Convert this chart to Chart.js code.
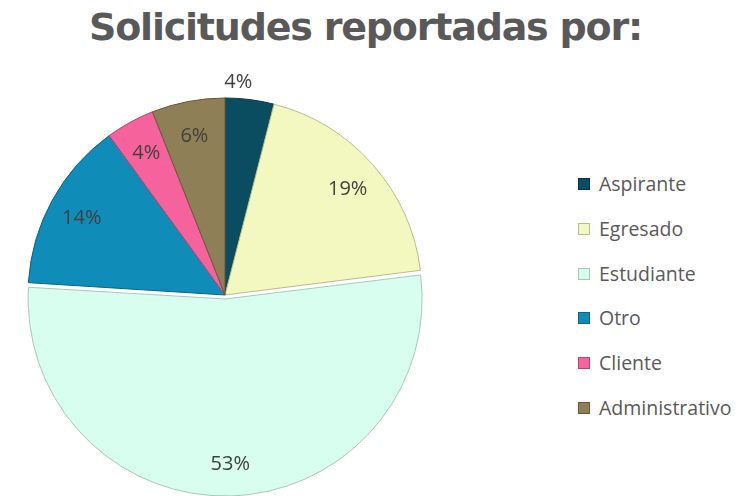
<!DOCTYPE html>
<html lang="es">
<head>
    <meta charset="UTF-8">
    <title>Solicitudes reportadas por</title>
    <script src="https://cdn.jsdelivr.net/npm/chart.js"></script>
    <style>
        body { margin: 0; background: #fff; }
        #contenedor { position: relative; width: 751px; height: 496px; overflow: hidden; }
        #titulo {
            position: absolute; left: 0; top: 4px; width: 731px; text-align: center;
            font: bold 38px "DejaVu Sans", sans-serif; letter-spacing: -1.2px; color: #595959;
            line-height: 46px;
        }
        #miGrafica { position: absolute; left: 0; top: 0; }
        #leyenda { position: absolute; left: 578px; top: 172px; }
        .item { height: 44.8px; display: flex; align-items: flex-start; }
        .caja { width: 12px; height: 12px; margin-top: 6px; margin-right: 9px; box-sizing: border-box; }
        .texto { font: 19.5px "Open Sans", sans-serif; color: #595959; line-height: 24px; }
    </style>
</head>
<body>
<div id="contenedor">
    <div id="titulo">Solicitudes reportadas por:</div>
    <canvas id="miGrafica" width="450" height="496"></canvas>
    <div id="leyenda"></div>
</div>

<script>
    // Datos de la gráfica
    var categorias = ['Aspirante', 'Egresado', 'Estudiante', 'Otro', 'Cliente', 'Administrativo'];
    var valores = [4, 19, 53, 14, 4, 6];
    var colores = ['#0B4D60', '#F3F8C0', '#D8FEEF', '#0F8DB8', '#F5629C', '#8F7F56'];
    var bordes = ['#073644', '#B9BD8A', '#A6C9BB', '#0A6685', '#B8446F', '#65593A'];

    // chart.js agranda el sector separado; aquí se deja con el mismo radio
    var sinCrecer = {
        id: 'sinCrecer',
        beforeDatasetsDraw: function(chart) {
            var meta = chart.getDatasetMeta(0);
            var radio = meta.controller.outerRadius;
            meta.data.forEach(function(arc) {
                var off = (arc.options.offset || 0) / 4;
                var fix = 1 - Math.sin(Math.min(Math.PI, arc.circumference));
                arc.outerRadius = radio - off * fix;
            });
        }
    };

    // Etiquetas de porcentaje sobre cada sector
    var etiquetasPct = {
        id: 'etiquetasPct',
        afterDatasetsDraw: function(chart, args, opts) {
            var ctx = chart.ctx;
            var meta = chart.getDatasetMeta(0);
            var radio = meta.controller.outerRadius;
            ctx.save();
            ctx.font = opts.font;
            ctx.fillStyle = opts.color;
            ctx.textBaseline = 'middle';
            meta.data.forEach(function(arc, i) {
                var medio = (arc.startAngle + arc.endAngle) / 2;
                var fuera = opts.fuera.indexOf(i) >= 0;
                var r = radio * (fuera ? 1.1 : 0.83) + (arc.options.offset || 0) / 4;
                ctx.textAlign = fuera ? 'right' : 'center';
                ctx.fillText(valores[i] + '%', arc.x + Math.cos(medio) * r, arc.y + Math.sin(medio) * r + 2);
            });
            ctx.restore();
        }
    };

    var ctx = document.getElementById('miGrafica').getContext('2d');
    var miGrafica = new Chart(ctx, {
        type: 'pie',
        data: {
            labels: categorias,
            datasets: [{
                data: valores,
                backgroundColor: colores,
                borderColor: bordes,
                borderWidth: 1,
                offset: [0, 0, 16, 0, 0, 0]
            }]
        },
        options: {
            responsive: false,
            animation: false,
            radius: 197,
            layout: { padding: { top: 94, bottom: 0, left: 0, right: 0 } },
            plugins: {
                legend: { display: false },
                tooltip: { enabled: false },
                etiquetasPct: { font: '20px "Open Sans", sans-serif', color: '#404040', fuera: [0] }
            }
        },
        plugins: [sinCrecer, etiquetasPct]
    });

    // Leyenda a la derecha
    var leyenda = document.getElementById('leyenda');
    for (var i = 0; i < categorias.length; i++) {
        var item = document.createElement('div');
        item.className = 'item';
        var caja = document.createElement('div');
        caja.className = 'caja';
        caja.style.background = colores[i];
        caja.style.border = '1px solid ' + bordes[i];
        var texto = document.createElement('span');
        texto.className = 'texto';
        texto.textContent = categorias[i];
        item.appendChild(caja);
        item.appendChild(texto);
        leyenda.appendChild(item);
    }
</script>
</body>
</html>
